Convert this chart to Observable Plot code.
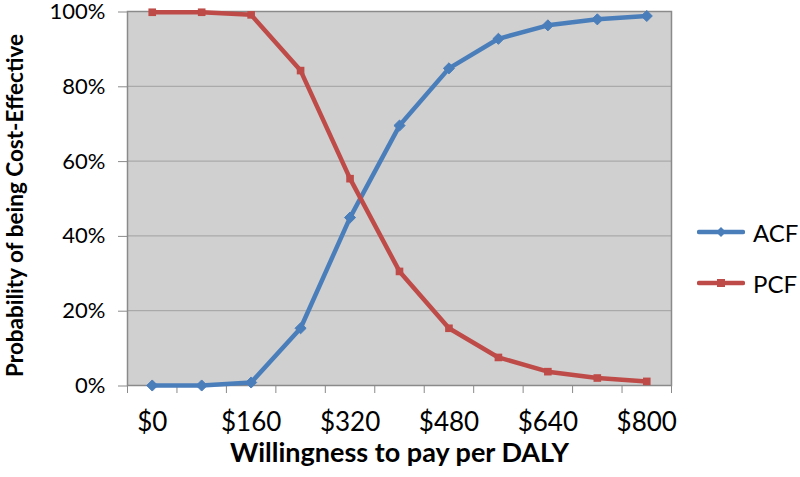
<!DOCTYPE html>
<html><head><meta charset="utf-8">
<script src="https://cdn.jsdelivr.net/npm/d3@7"></script>
<script src="https://cdn.jsdelivr.net/npm/@observablehq/plot@0.6"></script>
<style>
body{margin:0;background:#fff;}
#wrap{position:relative;width:800px;height:477px;font-family:Lato,"Open Sans",sans-serif;overflow:hidden;}
#wrap svg.plot{position:absolute;left:0;top:0;}
.leg{position:absolute;left:697px;height:30px;display:flex;align-items:center;font-size:24px;color:#000;white-space:nowrap;}
.leg svg{margin-right:8px;}
</style></head><body><div id="wrap"></div>
<script>
const wtp = [0, 80, 160, 240, 320, 400, 480, 560, 640, 720, 800];
const acf = [0, 0, 0.008, 0.153, 0.449, 0.695, 0.848, 0.927, 0.963, 0.979, 0.988];
const pcf = [0.998, 0.998, 0.991, 0.842, 0.553, 0.305, 0.153, 0.075, 0.037, 0.020, 0.011];
const seriesNames = ["ACF", "PCF"];
const seriesColors = ["#4A7EBB", "#BE4B48"];
const xTickLabels = [0, 160, 320, 480, 640, 800];
const yTicks = [0, 0.2, 0.4, 0.6, 0.8, 1];
const xTitle = "Willingness to pay per DALY";
const yTitle = "Probability of being Cost-Effective";

const rows = [];
wtp.forEach((w, i) => {
  rows.push({wtp: w, value: acf[i], series: "ACF"});
  rows.push({wtp: w, value: pcf[i], series: "PCF"});
});
const step = wtp[1] - wtp[0];
const boundaries = d3.range(wtp[0] - step / 2, wtp[wtp.length - 1] + step, step);

const chart = Plot.plot({
  width: 800, height: 477,
  marginLeft: 127, marginRight: 129, marginTop: 11, marginBottom: 92,
  style: {fontFamily: "Lato, 'Open Sans', sans-serif", background: "transparent", color: "#000"},
  x: {domain: [boundaries[0], boundaries[boundaries.length - 1]]},
  y: {domain: [0, 1]},
  color: {domain: seriesNames, range: seriesColors},
  marks: [
    Plot.frame({fill: "#d0d0d0", stroke: null}),
    Plot.gridY(yTicks.slice(1, -1), {stroke: "#a0a0a0", strokeOpacity: 1, strokeWidth: 1}),
    Plot.frame({stroke: "#8a8a8a", strokeWidth: 1.5}),
    Plot.axisY(yTicks, {tickSize: 9, tickPadding: 13, tickFormat: d => `${Math.round(d * 100)}%`, fontSize: 22, dy: 0.5, label: null, stroke: "#8a8a8a"}),
    Plot.axisX(boundaries, {tickSize: 8, tickFormat: () => "", label: null, stroke: "#8a8a8a"}),
    Plot.axisX(xTickLabels, {tickSize: 0, tickPadding: 27, tickFormat: d => "$" + d, fontSize: 26, label: null}),
    Plot.line(rows, {x: "wtp", y: "value", stroke: "series", strokeWidth: 4.5}),
    Plot.dot(rows.filter(d => d.series === "ACF"), {x: "wtp", y: "value", symbol: "diamond2", r: 5, fill: "series", stroke: "series", strokeWidth: 1}),
    Plot.dot(rows.filter(d => d.series === "PCF"), {x: "wtp", y: "value", symbol: "square", r: 4.3, fill: "series"}),
    Plot.text([xTitle], {text: d => d, frameAnchor: "bottom", dy: 76, fontSize: 27, fontWeight: "bold"}),
    Plot.text([yTitle], {text: d => d, frameAnchor: "left", textAnchor: "middle", rotate: -90, dx: -112, dy: 7, fontSize: 22.5, fontWeight: "bold"})
  ]
});
const wrap = document.getElementById("wrap");
wrap.appendChild(chart);

const legY = [232, 283];
seriesNames.forEach((name, i) => {
  const div = document.createElement("div");
  div.className = "leg";
  div.style.top = (legY[i] - 15) + "px";
  const c = seriesColors[i];
  const marker = i === 0
    ? `<path d="M24,10 L29,15 L24,20 L19,15 Z" fill="${c}"/>`
    : `<rect x="20" y="11" width="8" height="8" fill="${c}"/>`;
  div.innerHTML = `<svg width="48" height="30"><line x1="2" y1="15" x2="46" y2="15" stroke="${c}" stroke-width="4.5" stroke-linecap="round"/>${marker}</svg><span>${name}</span>`;
  wrap.appendChild(div);
});
</script>
</body></html>
